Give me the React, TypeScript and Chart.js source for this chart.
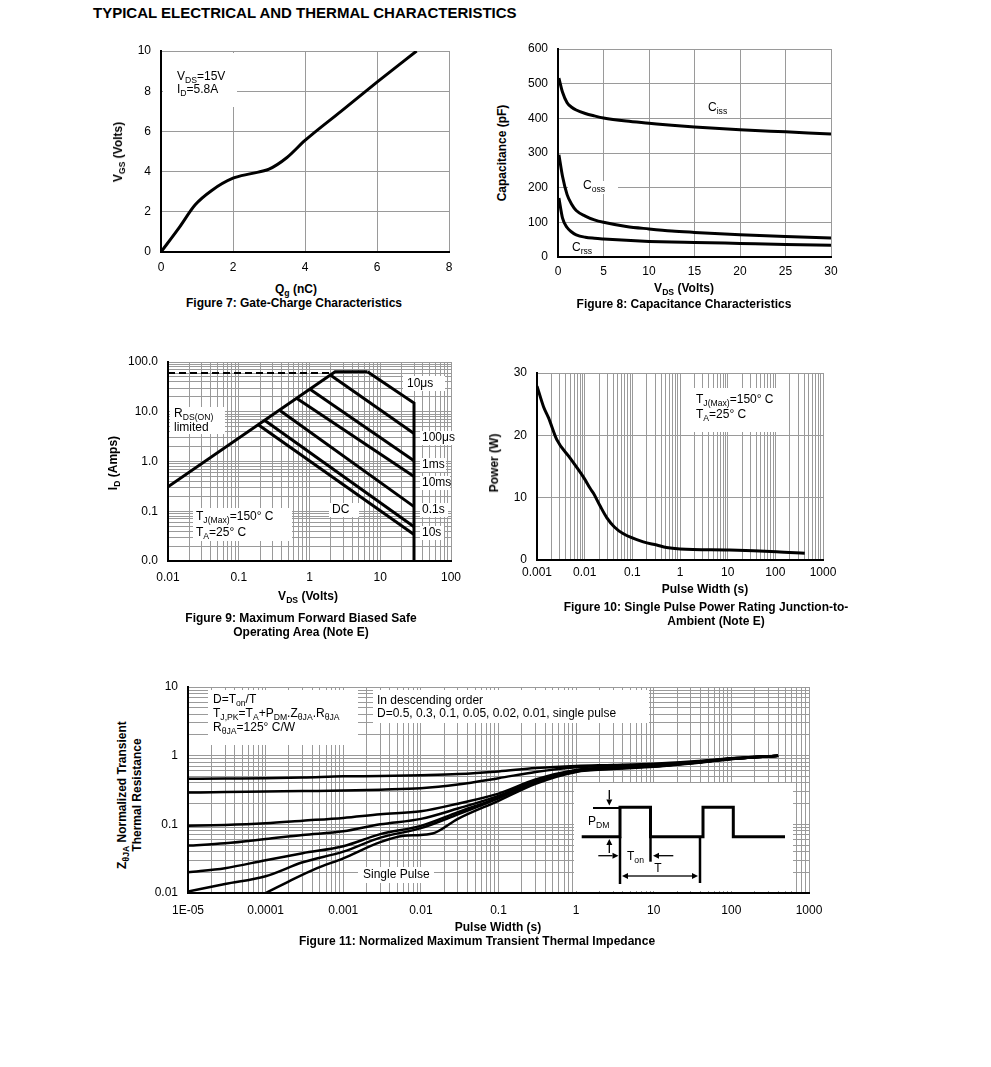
import React, { useEffect, useRef } from 'react';
import { Chart, registerables } from 'chart.js';
Chart.register(...registerables);

// ---------- Figure 7: gate charge ----------
const qgNc = [0, 0.5, 0.95, 1.4, 2.0, 2.5, 3.0, 3.5, 4.0, 5.0, 6.0, 7.1];
const vgsVolts = [0, 1.2, 2.35, 3.05, 3.67, 3.9, 4.12, 4.7, 5.55, 7.0, 8.45, 10];

// ---------- Figure 8: capacitance ----------
const vdsCap = [0.1, 0.5, 1, 1.5, 2, 3, 4, 5, 7.5, 10, 12.5, 15, 20, 25, 30];
const ciss = [516, 475, 445, 432, 424, 414, 407, 401, 392, 386, 380, 375, 367, 361, 355];
const coss = [295, 232, 180, 152, 134, 118, 107, 100, 88, 81, 75, 71, 64, 59, 55];
const crss = [170, 112, 85, 72, 64, 57, 54, 52, 48, 45, 43, 42, 39, 36, 34];

// ---------- Figure 9: SOA ----------
const soaRdsX = [0.01, 2.3, 6.6];
const soaRdsY = [0.31, 64, 64];
const soa10usX = [6.6, 30, 30];
const soa10usY = [64, 15, 0.01];
const soa100usX = [1.97, 30];
const soa100usY = [55, 3.67];
const soa1msX = [1.03, 30];
const soa1msY = [28, 1.04];
const soa10msX = [0.665, 30];
const soa10msY = [18.5, 0.5];
const soa100msX = [0.387, 30];
const soa100msY = [10.5, 0.124];
const soa10sX = [0.237, 30];
const soa10sY = [6.6, 0.049];
const soaDcX = [0.191, 30];
const soaDcY = [5.4, 0.034];
const soaPulseX = [0.01, 2.2];
const soaPulseY = [60, 60];
const soaYLabels = ['0.0', '0.1', '1.0', '10.0', '100.0'];
const soaXLabels = ['0.01', '0.1', '1', '10', '100'];

// ---------- Figure 10: single pulse power ----------
const pulseW = [0.001, 0.00137, 0.00175, 0.0026, 0.005, 0.0098, 0.013, 0.0153, 0.021, 0.029, 0.042, 0.065, 0.17, 0.325, 0.52, 1, 11, 105, 414];
const powerW = [27.9, 24.6, 22.8, 19.3, 16.3, 13.1, 11.5, 10.7, 8.7, 6.8, 5.3, 4.2, 2.9, 2.4, 2.0, 1.77, 1.6, 1.33, 1.07];
const powXLabels = ['0.001', '0.01', '0.1', '1', '10', '100', '1000'];

// ---------- Figure 11: transient thermal impedance ----------
const tz = [1e-5, 3e-5, 1e-4, 3e-4, 1e-3, 3e-3, 1e-2, 3e-2, 0.1, 0.3, 1, 3, 10, 30, 100, 400];
const zD05 = [0.46, 0.465, 0.47, 0.48, 0.5, 0.505, 0.52, 0.54, 0.59, 0.66, 0.71, 0.73, 0.76, 0.82, 0.92, 1.0];
const zD03 = [0.29, 0.295, 0.3, 0.305, 0.31, 0.32, 0.335, 0.38, 0.47, 0.58, 0.68, 0.71, 0.74, 0.8, 0.91, 1.0];
const zD01 = [0.095, 0.098, 0.104, 0.113, 0.124, 0.14, 0.155, 0.2, 0.28, 0.45, 0.62, 0.67, 0.71, 0.78, 0.9, 1.0];
const zD005 = [0.049, 0.053, 0.061, 0.07, 0.079, 0.1, 0.12, 0.17, 0.26, 0.43, 0.61, 0.66, 0.7, 0.78, 0.9, 1.0];
const zD002 = [0.02, 0.023, 0.03, 0.038, 0.048, 0.072, 0.095, 0.15, 0.245, 0.42, 0.6, 0.65, 0.7, 0.78, 0.9, 1.0];
const zD001 = [0.0105, 0.0135, 0.0175, 0.028, 0.04, 0.064, 0.088, 0.14, 0.24, 0.41, 0.59, 0.65, 0.7, 0.78, 0.9, 1.0];
const tzSingle = [1e-4, 2e-4, 4.6e-4, 1e-3, 3e-3, 6e-3, 1e-2, 1.5e-2, 3e-2, 0.1, 0.3, 1, 3, 10, 30, 100, 400];
const zSingle = [0.01, 0.0148, 0.023, 0.032, 0.055, 0.068, 0.07, 0.075, 0.12, 0.22, 0.39, 0.58, 0.64, 0.69, 0.77, 0.89, 1.0];
const zXLabels = ['1E-05', '0.0001', '0.001', '0.01', '0.1', '1', '10', '100', '1000'];
const zYLabels = ['0.01', '0.1', '1', '10'];

// ---------- helpers ----------
const FONT = '"Liberation Sans", Arial, Helvetica, sans-serif';
const GRID = '#9a9a9a';

const maskPlugin = {
  id: 'masks',
  beforeDatasetsDraw(chart: any, _a: any, opts: any) {
    const ctx = chart.ctx;
    ctx.save();
    ctx.fillStyle = '#fff';
    (opts.boxes || []).forEach((b: number[]) => ctx.fillRect(b[0] - opts.ox, b[1] - opts.oy, b[2], b[3]));
    ctx.restore();
  },
};

function logTicks(e0: number, e1: number) {
  const out: number[] = [];
  for (let e = e0; e < e1; e++) for (let m = 1; m < 10; m++) out.push(Number((m * Math.pow(10, e)).toPrecision(2)));
  out.push(Number(Math.pow(10, e1).toPrecision(2)));
  return out;
}
const isDecade = (v: number) => Math.abs(Math.log10(v) - Math.round(Math.log10(v))) < 1e-6;

function axis(isY: boolean, size: number, pad: number, extra: any) {
  const { ticks, ...rest } = extra;
  return {
    grid: { color: GRID, lineWidth: 1, drawTicks: false },
    border: { display: true, color: '#000', width: 2 },
    ticks: { color: '#000', font: { family: FONT, size: 12 }, padding: pad, maxRotation: 0, autoSkip: false, ...(ticks || {}) },
    afterFit: (s: any) => {
      if (isY) {
        s.width = size;
        s.paddingTop = 0;
        s.paddingBottom = 0;
      } else {
        s.height = size;
        s.paddingLeft = 0;
        s.paddingRight = 0;
      }
    },
    ...rest,
  };
}

function logAxis(isY: boolean, size: number, pad: number, e0: number, e1: number, labels: string[]) {
  return axis(isY, size, pad, {
    type: 'logarithmic',
    min: Math.pow(10, e0),
    max: Math.pow(10, e1),
    afterBuildTicks: (s: any) => {
      s.ticks = logTicks(e0, e1).map((v) => ({ value: v }));
    },
    ticks: {
      callback: (v: number) => (isDecade(v) ? labels[Math.round(Math.log10(v)) - e0] : ''),
    },
  });
}

function line(xs: number[], ys: number[], o: any = {}) {
  return {
    data: xs.map((x, i) => ({ x, y: ys[i] })),
    borderColor: '#000',
    borderWidth: 3,
    pointRadius: 0,
    showLine: true,
    fill: false,
    tension: 0,
    ...o,
  };
}

function baseOptions(ox: number, oy: number, padR: number, boxes: number[][], scales: any) {
  return {
    animation: false,
    responsive: false,
    devicePixelRatio: 1,
    layout: { padding: { top: 10, right: padR, left: 0, bottom: 0 } },
    plugins: { legend: { display: false }, tooltip: { enabled: false }, title: { display: false }, masks: { boxes, ox, oy } },
    scales,
  };
}

function ChartBox({ left, top, width, height, make }: any) {
  const ref = useRef<HTMLCanvasElement>(null);
  useEffect(() => {
    const chart = new Chart(ref.current as HTMLCanvasElement, make(left, top));
    return () => chart.destroy();
  }, []);
  return <canvas ref={ref} width={width} height={height} style={{ position: 'absolute', left, top, width, height }} />;
}

const Sub = ({ children }: any) => <span style={{ fontSize: '0.72em', verticalAlign: '-0.35em' }}>{children}</span>;

function T({ x, y, a = 'l', b = false, s = 12, r = false, children, style }: any) {
  const tx = a === 'c' ? '-50%' : a === 'r' ? '-100%' : '0';
  return (
    <div
      style={{
        position: 'absolute',
        left: x,
        top: y,
        transform: r ? 'translate(-50%,-50%) rotate(-90deg)' : `translate(${tx},-50%)`,
        whiteSpace: 'nowrap',
        fontFamily: FONT,
        fontWeight: b ? 'bold' : 'normal',
        fontSize: s,
        lineHeight: 1.15,
        color: '#000',
        textAlign: 'center',
        ...(style || {}),
      }}
    >
      {children}
    </div>
  );
}

function Arrow({ x1, y1, x2, y2 }: any) {
  const dx = x2 - x1, dy = y2 - y1;
  const L = Math.hypot(dx, dy);
  const ux = dx / L, uy = dy / L;
  const hl = 6, hw = 3;
  const bx = x2 - ux * hl, by = y2 - uy * hl;
  return (
    <g>
      <line x1={x1} y1={y1} x2={bx} y2={by} stroke="#000" strokeWidth={1.3} />
      <polygon points={`${x2},${y2} ${bx - uy * hw},${by + ux * hw} ${bx + uy * hw},${by - ux * hw}`} fill="#000" />
    </g>
  );
}

// ---------- chart configs ----------
const makeFig7 = (ox: number, oy: number) => ({
  type: 'scatter',
  data: { datasets: [line(qgNc, vgsVolts, { cubicInterpolationMode: 'monotone' })] },
  options: baseOptions(ox, oy, 15, [[163, 53, 74, 54]], {
    x: axis(false, 30, 8, { type: 'linear', min: 0, max: 8, ticks: { stepSize: 2 } }),
    y: axis(true, 40, 10, { type: 'linear', min: 0, max: 10, ticks: { stepSize: 2 } }),
  }),
  plugins: [maskPlugin],
});

const makeFig8 = (ox: number, oy: number) => ({
  type: 'scatter',
  data: {
    datasets: [
      line(vdsCap, ciss, { cubicInterpolationMode: 'monotone' }),
      line(vdsCap, coss, { cubicInterpolationMode: 'monotone' }),
      line(vdsCap, crss, { cubicInterpolationMode: 'monotone' }),
    ],
  },
  options: baseOptions(ox, oy, 15, [[568, 181, 50, 13]], {
    x: axis(false, 30, 7, { type: 'linear', min: 0, max: 30, ticks: { stepSize: 5 } }),
    y: axis(true, 40, 10, { type: 'linear', min: 0, max: 600, ticks: { stepSize: 100 } }),
  }),
  plugins: [maskPlugin],
});

const makeFig9 = (ox: number, oy: number) => ({
  type: 'scatter',
  data: {
    datasets: [
      line(soaPulseX, soaPulseY, { borderWidth: 2, borderDash: [7, 4] }),
      line(soaRdsX, soaRdsY),
      line(soa10usX, soa10usY),
      line(soa100usX, soa100usY),
      line(soa1msX, soa1msY),
      line(soa10msX, soa10msY),
      line(soa100msX, soa100msY),
      line(soa10sX, soa10sY),
      line(soaDcX, soaDcY),
    ],
  },
  options: baseOptions(ox, oy, 15,
    [
      [170, 407, 55, 27],
      [193, 508, 99, 33],
      [329, 503, 30, 14],
      [403, 376, 42, 15],
      [420, 431, 34, 14],
      [420, 458, 26, 14],
      [420, 476, 30, 14],
      [420, 503, 28, 14],
      [420, 526, 24, 14],
    ],
    {
      x: logAxis(false, 30, 9, -2, 2, soaXLabels),
      y: logAxis(true, 50, 10, -2, 2, soaYLabels),
    }),
  plugins: [maskPlugin],
});

const makeFig10 = (ox: number, oy: number) => ({
  type: 'scatter',
  data: { datasets: [line(pulseW, powerW, { cubicInterpolationMode: 'monotone' })] },
  options: baseOptions(ox, oy, 20, [[690, 388, 90, 44]], {
    x: logAxis(false, 30, 5, -3, 3, powXLabels),
    y: axis(true, 40, 10, { type: 'linear', min: 0, max: 30, ticks: { stepSize: 10 } }),
  }),
  plugins: [maskPlugin],
});

const makeFig11 = (ox: number, oy: number) => ({
  type: 'scatter',
  data: {
    datasets: [
      line(tz, zD05, { borderWidth: 2.5, cubicInterpolationMode: 'monotone' }),
      line(tz, zD03, { borderWidth: 2.5, cubicInterpolationMode: 'monotone' }),
      line(tz, zD01, { borderWidth: 2.5, cubicInterpolationMode: 'monotone' }),
      line(tz, zD005, { borderWidth: 2.5, cubicInterpolationMode: 'monotone' }),
      line(tz, zD002, { borderWidth: 2.5, cubicInterpolationMode: 'monotone' }),
      line(tz, zD001, { borderWidth: 2.5, cubicInterpolationMode: 'monotone' }),
      line(tzSingle, zSingle, { borderWidth: 2.5, cubicInterpolationMode: 'monotone' }),
    ],
  },
  options: baseOptions(ox, oy, 20,
    [
      [208, 690, 150, 55],
      [373, 690, 276, 33],
      [358, 867, 76, 16],
      [574, 783, 219, 108],
    ],
    {
      x: logAxis(false, 30, 10, -5, 3, zXLabels),
      y: logAxis(true, 40, 10, -2, 1, zYLabels),
    }),
  plugins: [maskPlugin],
});

export default function App() {
  return (
    <div style={{ position: 'absolute', left: 0, top: 0, width: 991, height: 1067, background: '#fff', overflow: 'hidden' }}>
      <T x={93} y={13} b s={15}>TYPICAL ELECTRICAL AND THERMAL CHARACTERISTICS</T>

      {/* Figure 7 */}
      <ChartBox left={121} top={41} width={343} height={241} make={makeFig7} />
      <T x={177} y={78}>V<Sub>DS</Sub>=15V</T>
      <T x={177} y={91}>I<Sub>D</Sub>=5.8A</T>
      <T x={120} y={152} b r>V<Sub>GS</Sub> (Volts)</T>
      <T x={296} y={291} b a="c">Q<Sub>g</Sub> (nC)</T>
      <T x={294} y={304} b a="c">Figure 7: Gate-Charge Characteristics</T>

      {/* Figure 8 */}
      <ChartBox left={518} top={39} width={328} height={248} make={makeFig8} />
      <T x={708} y={109}>C<Sub>iss</Sub></T>
      <T x={583} y={187}>C<Sub>oss</Sub></T>
      <T x={572} y={249}>C<Sub>rss</Sub></T>
      <T x={503} y={153} b r>Capacitance (pF)</T>
      <T x={684} y={290} b a="c">V<Sub>DS</Sub> (Volts)</T>
      <T x={684} y={305} b a="c">Figure 8: Capacitance Characteristics</T>

      {/* Figure 9 */}
      <ChartBox left={118} top={352} width={348} height={239} make={makeFig9} />
      <T x={174} y={415}>R<Sub>DS(ON)</Sub></T>
      <T x={174} y={428}>limited</T>
      <T x={196} y={518}>T<Sub>J(Max)</Sub>=150° C</T>
      <T x={196} y={534}>T<Sub>A</Sub>=25° C</T>
      <T x={332} y={510}>DC</T>
      <T x={407} y={384}>10μs</T>
      <T x={422} y={438}>100μs</T>
      <T x={422} y={465}>1ms</T>
      <T x={422} y={483}>10ms</T>
      <T x={422} y={510}>0.1s</T>
      <T x={422} y={533}>10s</T>
      <T x={115} y={463} b r>I<Sub>D</Sub> (Amps)</T>
      <T x={308} y={598} b a="c">V<Sub>DS</Sub> (Volts)</T>
      <T x={301} y={619} b a="c">Figure 9: Maximum Forward Biased Safe</T>
      <T x={301} y={633} b a="c">Operating Area (Note E)</T>

      {/* Figure 10 */}
      <ChartBox left={497} top={363} width={346} height={227} make={makeFig10} />
      <T x={696} y={401}>T<Sub>J(Max)</Sub>=150° C</T>
      <T x={696} y={416}>T<Sub>A</Sub>=25° C</T>
      <T x={495} y={463} b r>Power (W)</T>
      <T x={705} y={590} b a="c">Pulse Width (s)</T>
      <T x={706} y={608} b a="c">Figure 10: Single Pulse Power Rating Junction-to-</T>
      <T x={716} y={622} b a="c">Ambient (Note E)</T>

      {/* Figure 11 */}
      <ChartBox left={148} top={677} width={681} height={246} make={makeFig11} />
      <T x={213} y={701}>D=T<Sub>on</Sub>/T</T>
      <T x={213} y={715}>T<Sub>J,PK</Sub>=T<Sub>A</Sub>+P<Sub>DM</Sub>.Z<Sub>θJA</Sub>.R<Sub>θJA</Sub></T>
      <T x={213} y={729}>R<Sub>θJA</Sub>=125° C/W</T>
      <T x={377} y={701}>In descending order</T>
      <T x={377} y={714}>D=0.5, 0.3, 0.1, 0.05, 0.02, 0.01, single pulse</T>
      <T x={363} y={875}>Single Pulse</T>
      <svg style={{ position: 'absolute', left: 573, top: 783 }} width={220} height={110}>
        <polyline points="8.7,53.7 47,53.7 47,24.3 77.5,24.3 77.5,53.7 130,53.7 130,24.3 160.3,24.3 160.3,53.7 212,53.7" fill="none" stroke="#000" strokeWidth={3} />
        <line x1={20} y1={25} x2={47} y2={25} stroke="#000" strokeWidth={2} />
        <line x1={47} y1={53.7} x2={47} y2={101} stroke="#000" strokeWidth={2.5} />
        <line x1={77.5} y1={53.7} x2={77.5} y2={78.7} stroke="#000" strokeWidth={2.5} />
        <line x1={127} y1={53.7} x2={127} y2={100} stroke="#000" strokeWidth={2.5} />
        <Arrow x1={36.3} y1={7} x2={36.3} y2={22.5} />
        <Arrow x1={36.3} y1={70} x2={36.3} y2={56} />
        <Arrow x1={25.3} y1={72.7} x2={45.5} y2={72.7} />
        <Arrow x1={100.3} y1={72.7} x2={80} y2={72.7} />
        <Arrow x1={87} y1={93} x2={49} y2={93} />
        <Arrow x1={87} y1={93} x2={125} y2={93} />
      </svg>
      <T x={588} y={823}>P<Sub>DM</Sub></T>
      <T x={627} y={858}>T<Sub>on</Sub></T>
      <T x={658} y={869} a="c">T</T>
      <T x={129} y={795} b r style={{ lineHeight: 1.0 }}>
        Z<Sub>θJA</Sub> Normalized Transient<br />Thermal Resistance
      </T>
      <T x={498} y={928} b a="c">Pulse Width (s)</T>
      <T x={477} y={942} b a="c">Figure 11: Normalized Maximum Transient Thermal Impedance</T>
    </div>
  );
}
